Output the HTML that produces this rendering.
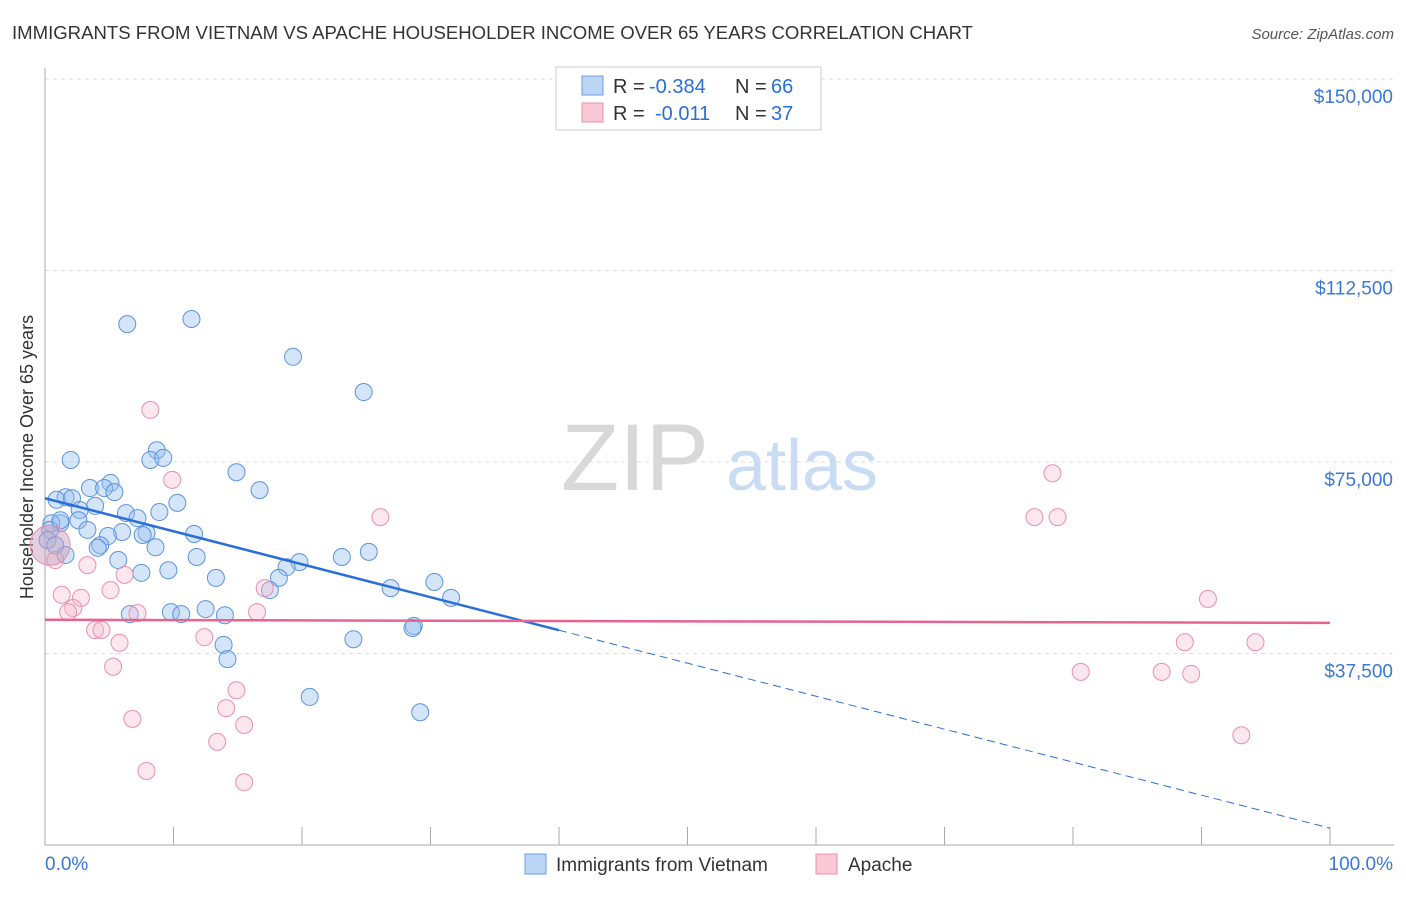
<!DOCTYPE html>
<html><head><meta charset="utf-8"><style>
body{margin:0;background:#fff;font-family:"Liberation Sans",sans-serif;}
svg text{font-family:"Liberation Sans",sans-serif;}
</style></head><body>
<svg id="chart" width="1406" height="892" xmlns="http://www.w3.org/2000/svg">
<text x="12" y="39" font-size="18" fill="#333" textLength="961" lengthAdjust="spacingAndGlyphs">IMMIGRANTS FROM VIETNAM VS APACHE HOUSEHOLDER INCOME OVER 65 YEARS CORRELATION CHART</text>
<text x="1394" y="39" font-size="15" fill="#555" text-anchor="end" font-style="italic">Source: ZipAtlas.com</text>
<text x="33" y="457" font-size="18" fill="#333" text-anchor="middle" transform="rotate(-90 33 457)">Householder Income Over 65 years</text>
<g id="grid"></g>
<g id="watermark">
<text x="635" y="490" font-size="95" fill="#d8d8d8" font-family="Liberation Serif" text-anchor="middle">ZIP</text>
<text x="802" y="490" font-size="72" fill="#c9dcf3" text-anchor="middle">atlas</text>
</g>
<g id="pts"></g>
<g id="lines"></g>
<g>
<rect x="556" y="67" width="265" height="63" fill="#fff" stroke="#ccc"/>
<rect x="582" y="76" width="21" height="19" fill="#bcd5f5" stroke="#6a9ee0"/>
<rect x="582" y="103" width="21" height="19" fill="#fac9d8" stroke="#e890ab"/>
<text x="613" y="93" font-size="20" fill="#333">R =</text>
<text x="649" y="93" font-size="20" fill="#2a6fd6">-0.384</text>
<text x="735" y="93" font-size="20" fill="#333">N =</text>
<text x="771" y="93" font-size="20" fill="#2a6fd6">66</text>
<text x="613" y="120" font-size="20" fill="#333">R =</text>
<text x="655" y="120" font-size="20" fill="#2a6fd6">-0.011</text>
<text x="735" y="120" font-size="20" fill="#333">N =</text>
<text x="771" y="120" font-size="20" fill="#2a6fd6">37</text>
</g>
<g>
<rect x="525" y="854" width="21" height="20" fill="#bcd5f5" stroke="#6a9ee0"/>
<text x="556" y="871" font-size="19" fill="#333">Immigrants from Vietnam</text>
<rect x="816" y="854" width="21" height="20" fill="#fac9d8" stroke="#e890ab"/>
<text x="848" y="871" font-size="19" fill="#333">Apache</text>
</g>
</svg>
<script>
const yTicks=[37500,75000,112500,150000];
const yTickLabels=["$37,500","$75,000","$112,500","$150,000"];
const xTickLabels=["0.0%","100.0%"];
const blueX=[6.4,11.4,19.3,24.8,8.7,8.2,9.2,2.0,14.9,5.1,3.5,4.6,5.4,16.7,1.6,0.9,2.1,10.3,3.9,2.7,6.3,8.9,7.2,2.6,1.2,0.5,3.3,6.0,7.9,4.9,11.6,7.6,4.3,4.1,8.6,5.7,11.8,7.5,9.6,19.8,23.1,25.2,18.8,13.3,18.2,17.5,30.3,26.9,31.6,6.6,9.8,10.6,12.5,14.0,28.7,28.6,24.0,13.9,14.2,20.6,29.2,0.4,0.2,0.8,1.2,1.6];
const blueY=[102.0,103.0,95.6,88.7,77.3,75.4,75.8,75.4,73.0,70.9,69.9,69.9,69.1,69.5,68.1,67.6,67.9,67.0,66.4,65.6,65.0,65.2,64.0,63.6,63.0,63.0,61.7,61.3,61.1,60.5,60.9,60.7,58.7,58.2,58.3,55.8,56.4,53.3,53.8,55.4,56.4,57.4,54.4,52.3,52.3,49.9,51.5,50.3,48.4,45.2,45.6,45.2,46.2,45.0,42.9,42.5,40.3,39.2,36.4,29.0,26.0,61.7,59.7,58.7,63.6,56.8];
const pinkX=[8.2,9.9,26.1,78.4,77.0,78.8,0.8,3.3,6.2,5.1,1.3,2.8,2.2,1.8,7.2,17.1,16.5,3.9,4.4,12.4,5.8,90.5,88.7,94.2,5.3,14.9,80.6,86.9,89.2,14.1,6.8,15.5,13.4,93.1,7.9,15.5,0.4];
const pinkY=[85.2,71.5,64.2,72.8,64.2,64.2,55.8,54.8,52.9,49.9,49.0,48.4,46.4,45.6,45.4,50.3,45.6,42.1,42.1,40.7,39.6,48.2,39.7,39.7,34.9,30.3,33.9,33.9,33.5,26.8,24.7,23.5,20.2,21.5,14.5,12.3,58.7];
const blueTrend=[67.9,3.3];
const pinkTrend=[44.1,43.5];
const blueSolidEnd=40;

const NS="http://www.w3.org/2000/svg";
const X0=45,X1=1330,YB=845,YT=79;
const sx=v=>X0+(X1-X0)*v/100;
const sy=v=>YB-(YB-YT)*v/150000;
function mk(tag,attrs,parent){const e=document.createElementNS(NS,tag);for(const k in attrs)e.setAttribute(k,attrs[k]);parent.appendChild(e);return e;}
const grid=document.getElementById('grid');
yTicks.forEach((t,i)=>{
 const l=mk('line',{x1:X0,x2:1394,y1:sy(t),y2:sy(t),stroke:'#ddd','stroke-dasharray':'4,4'},grid);
 
 
 const tx=mk('text',{x:1393,y:sy(t)+24,'font-size':19,fill:'#3a78d4','text-anchor':'end'},grid);
 tx.textContent=yTickLabels[i];
 
 
});
const ax=mk('line',{x1:X0,x2:X0,y1:68,y2:YB,stroke:'#aaa'},grid);


const bx=mk('line',{x1:X0,x2:1394,y1:YB,y2:YB,stroke:'#aaa'},grid);


for(let i=0;i<=10;i++){
 const t=mk('line',{x1:sx(i*10),x2:sx(i*10),y1:827,y2:YB,stroke:'#aaa'},grid);
 
 
}
[[0,'start',45],[100,'end',1393]].forEach((d,i)=>{
 const t=mk('text',{x:d[2],y:870,'font-size':19,fill:'#3a78d4','text-anchor':d[1]},grid);
 t.textContent=xTickLabels[i];
 
 
});
const pts=document.getElementById('pts');
blueX.forEach((x,i)=>{
 const c=mk('circle',{cx:sx(x),cy:sy(blueY[i]*1000),r:8.5,fill:'rgba(150,190,240,0.4)',stroke:'#5b93dd','stroke-width':1},pts);
 
 
});
pinkX.forEach((x,i)=>{
 const big=i===pinkX.length-1;
 const c=mk('circle',{cx:sx(x),cy:sy(pinkY[i]*1000),r:big?20:8.5,fill:big?'rgba(200,160,190,0.5)':'rgba(248,185,205,0.35)',stroke:'#e890ab','stroke-width':1},pts);
 
 
});
const lines=document.getElementById('lines');
const by=p=>blueTrend[0]+(blueTrend[1]-blueTrend[0])*p/100;
const l1=mk('line',{x1:sx(0),y1:sy(by(0)*1000),x2:sx(blueSolidEnd),y2:sy(by(blueSolidEnd)*1000),stroke:'#2a6fd6','stroke-width':2.5},lines);


const l2=mk('line',{x1:sx(blueSolidEnd),y1:sy(by(blueSolidEnd)*1000),x2:sx(100),y2:sy(by(100)*1000),stroke:'#2a6fd6','stroke-width':1,'stroke-dasharray':'8,5'},lines);


const l3=mk('line',{x1:sx(0),y1:sy(pinkTrend[0]*1000),x2:sx(100),y2:sy(pinkTrend[1]*1000),stroke:'#e6648f','stroke-width':2.5},lines);


</script>
</body></html>
